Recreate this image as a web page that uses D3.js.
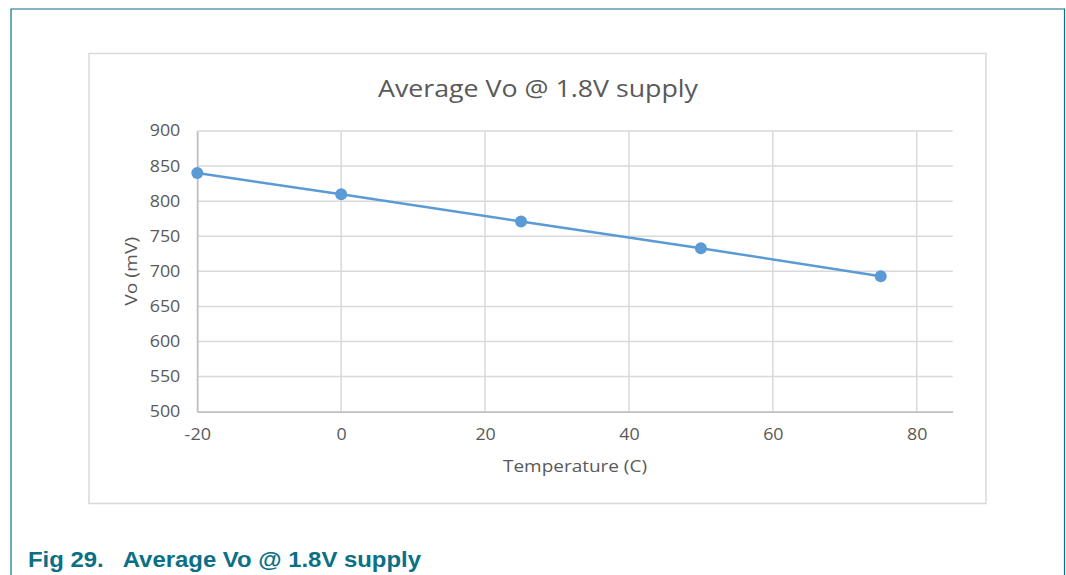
<!DOCTYPE html>
<html>
<head>
<meta charset="utf-8">
<script src="https://cdn.jsdelivr.net/npm/d3@7"></script>
<style>
  html, body { margin: 0; padding: 0; background: #fff; }
  svg { display: block; }
</style>
</head>
<body>
<svg id="chart" width="1066" height="575"></svg>
<script>
// data
var temps = [-20, 0, 25, 50, 75];
var vo = [840, 810, 771, 733, 693];
var xTicks = [-20, 0, 20, 40, 60, 80];
var yTicks = [500, 550, 600, 650, 700, 750, 800, 850, 900];

var svg = d3.select('#chart');
var teal = '#0b6f86';
var gray = '#595959';
var font = '"Open Sans", sans-serif';

// the source glyphs are a bit wider than Open Sans, so stretch labels
function labelWidth(s) {
    var w = 0;
    for (var i = 0; i < s.length; i++) w += s[i] === '-' ? 6 : 10.2;
    return w;
}

// page frame (teal rule on top, left, right)
svg.append('path')
    .attr('d', 'M11,575 V9 H1064.5 V575')
    .attr('fill', 'none')
    .attr('stroke', teal)
    .attr('stroke-width', 1.2);

// chart area box
svg.append('rect')
    .attr('x', 89).attr('y', 53.5)
    .attr('width', 897).attr('height', 450)
    .attr('fill', '#fff')
    .attr('stroke', '#d9d9d9')
    .attr('stroke-width', 1.5);

var margin = { left: 197.3, right: 952.7, top: 131, bottom: 411.7 };

var x = d3.scaleLinear().domain([-20, 85]).range([margin.left, margin.right]);
var y = d3.scaleLinear().domain([500, 900]).range([margin.bottom, margin.top]);

var grid = svg.append('g').attr('class', 'grid');
grid.selectAll('line.h')
    .data(yTicks)
    .enter().append('line')
    .attr('class', 'h')
    .attr('x1', margin.left).attr('x2', margin.right)
    .attr('y1', function (d) { return y(d); })
    .attr('y2', function (d) { return y(d); })
    .attr('stroke', '#d9d9d9')
    .attr('stroke-width', 1.5);
grid.selectAll('line.v')
    .data(xTicks)
    .enter().append('line')
    .attr('class', 'v')
    .attr('y1', margin.top).attr('y2', margin.bottom)
    .attr('x1', function (d) { return x(d); })
    .attr('x2', function (d) { return x(d); })
    .attr('stroke', '#d9d9d9')
    .attr('stroke-width', 1.5);

// axes
var xAxis = d3.axisBottom(x).tickValues(xTicks).tickFormat(String).tickSize(0).tickPadding(17);
var yAxis = d3.axisLeft(y).tickValues(yTicks).tickFormat(String).tickSize(0).tickPadding(17);

var gx = svg.append('g')
    .attr('transform', 'translate(0,' + margin.bottom + ')')
    .call(xAxis);
var gy = svg.append('g')
    .attr('transform', 'translate(' + margin.left + ',0)')
    .call(yAxis);

[gx, gy].forEach(function (g) {
    g.select('.domain').attr('stroke', '#bfbfbf').attr('stroke-width', 1.5);
    g.selectAll('text')
        .attr('fill', gray)
        .attr('textLength', function (d) { return labelWidth(String(d)); })
        .attr('lengthAdjust', 'spacingAndGlyphs')
        .style('font-family', font)
        .style('font-size', '15.5px');
});

// series
var pts = temps.map(function (t, i) { return { t: t, v: vo[i] }; });
var line = d3.line()
    .x(function (d) { return x(d.t); })
    .y(function (d) { return y(d.v); });

svg.append('path')
    .datum(pts)
    .attr('d', line)
    .attr('fill', 'none')
    .attr('stroke', '#5b9bd5')
    .attr('stroke-width', 2.5);

svg.append('g')
    .selectAll('circle')
    .data(pts)
    .enter().append('circle')
    .attr('cx', function (d) { return x(d.t); })
    .attr('cy', function (d) { return y(d.v); })
    .attr('r', 6)
    .attr('fill', '#5b9bd5');

// titles
svg.append('text')
    .attr('x', 538).attr('y', 97)
    .attr('text-anchor', 'middle')
    .attr('fill', gray)
    .attr('textLength', 320)
    .attr('lengthAdjust', 'spacingAndGlyphs')
    .style('font-family', font)
    .style('font-size', '23px')
    .text('Average Vo @ 1.8V supply');

svg.append('text')
    .attr('x', 575).attr('y', 472)
    .attr('text-anchor', 'middle')
    .attr('fill', gray)
    .attr('textLength', 144)
    .attr('lengthAdjust', 'spacingAndGlyphs')
    .style('font-family', font)
    .style('font-size', '16px')
    .text('Temperature (C)');

svg.append('text')
    .attr('transform', 'translate(137,' + ((margin.top + margin.bottom) / 2) + ') rotate(-90)')
    .attr('text-anchor', 'middle')
    .attr('fill', gray)
    .attr('textLength', 69)
    .attr('lengthAdjust', 'spacingAndGlyphs')
    .style('font-family', font)
    .style('font-size', '16px')
    .text('Vo (mV)');

// figure caption
svg.append('text')
    .attr('x', 28).attr('y', 567)
    .attr('fill', teal)
    .attr('textLength', 393)
    .attr('lengthAdjust', 'spacingAndGlyphs')
    .style('font-family', '"Liberation Sans", Arial, sans-serif')
    .style('font-weight', 'bold')
    .style('font-size', '22.5px')
    .style('white-space', 'pre')
    .text('Fig 29.   Average Vo @ 1.8V supply');
</script>
</body>
</html>
